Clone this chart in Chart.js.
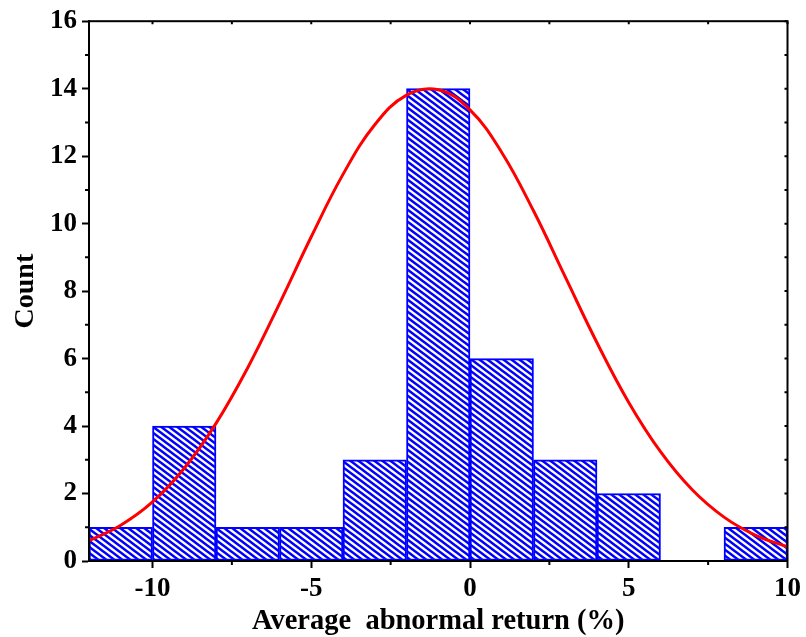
<!DOCTYPE html>
<html>
<head>
<meta charset="utf-8">
<script src="https://cdn.jsdelivr.net/npm/chart.js@4/dist/chart.umd.min.js"></script>
<style>
html,body{margin:0;padding:0;background:#fff;}
#wrap{width:806px;height:637px;}
</style>
</head>
<body>
<div id="wrap"><canvas id="c" width="806" height="637"></canvas></div>
<script>
// Histogram bins (centers) and counts
const binCenters = [-11, -9, -7, -5, -3, -1, 1, 3, 5, 7, 9];
const binCounts  = [1, 4, 1, 1, 3, 14, 6, 3, 2, 0, 1];
// Fitted normal curve
const curveX = [-12, -11, -10, -9, -8, -7, -6, -5, -4, -3, -2, -1, 0, 1, 2, 3, 4, 5, 6, 7, 8, 9, 10];
const curveY = [0.60, 1.06, 1.75, 2.75, 4.08, 5.73, 7.63, 9.61, 11.46, 12.93, 13.81, 13.97, 13.37, 12.11, 10.38, 8.42, 6.47, 4.70, 3.24, 2.11, 1.30, 0.76, 0.42];
// Axis ticks
const xTicks = [-10, -5, 0, 5, 10];
const xMinorTicks = [-7.5, -2.5, 2.5, 7.5];
const yTicks = [0, 2, 4, 6, 8, 10, 12, 14, 16];
const yMinorTicks = [1, 3, 5, 7, 9, 11, 13, 15];

function hatchPattern() {
  const w = 8, h = 6;
  const c = document.createElement('canvas');
  c.width = w; c.height = h;
  const g = c.getContext('2d');
  g.fillStyle = '#ffffff';
  g.fillRect(0, 0, w, h);
  g.strokeStyle = '#0000ff';
  g.lineWidth = 2.5;
  g.beginPath();
  for (const o of [-w, 0, w]) {
    g.moveTo(o - w, -h);
    g.lineTo(o + 2 * w, 2 * h);
  }
  g.stroke();
  return document.getElementById('c').getContext('2d').createPattern(c, 'repeat');
}

const framePlugin = {
  id: 'frame',
  afterDatasetsDraw(chart) {
    const ctx = chart.ctx;
    const a = chart.chartArea;
    const xs = chart.scales.x, ys = chart.scales.y;
    ctx.save();
    ctx.strokeStyle = '#000';
    ctx.lineWidth = 2;
    ctx.strokeRect(a.left, a.top, a.right - a.left, a.bottom - a.top);
    ctx.beginPath();
    for (const v of yMinorTicks) {
      const y = ys.getPixelForValue(v);
      ctx.moveTo(a.left - 4, y); ctx.lineTo(a.left, y);
    }
    for (const v of xMinorTicks) {
      const x = xs.getPixelForValue(v);
      ctx.moveTo(x, a.bottom); ctx.lineTo(x, a.bottom + 4);
    }
    for (const v of yTicks.concat(yMinorTicks)) {
      const y = ys.getPixelForValue(v);
      ctx.moveTo(a.right, y); ctx.lineTo(a.right - 3, y);
    }
    for (const v of xTicks.concat(xMinorTicks)) {
      const x = xs.getPixelForValue(v);
      ctx.moveTo(x, a.top); ctx.lineTo(x, a.top + 3);
    }
    ctx.stroke();
    ctx.restore();
  }
};

const font = {family: '"Liberation Serif", "Times New Roman", serif', weight: 'bold'};

const barData = [];
binCenters.forEach((x, i) => { if (binCounts[i] > 0) barData.push({x: x, y: binCounts[i]}); });
const lineData = curveX.map((x, i) => ({x: x, y: curveY[i]}));

new Chart(document.getElementById('c'), {
  type: 'bar',
  data: {
    datasets: [
      {
        type: 'line',
        data: lineData,
        borderColor: '#ff0000',
        borderWidth: 3,
        pointRadius: 0,
        tension: 0.4,
        fill: false,
        order: 0
      },
      {
        type: 'bar',
        data: barData,
        backgroundColor: hatchPattern(),
        borderColor: '#0000ff',
        borderWidth: 2,
        borderSkipped: false,
        barPercentage: 1,
        categoryPercentage: 1,
        order: 1
      }
    ]
  },
  options: {
    responsive: false,
    animation: false,
    layout: {padding: {top: 20, right: 17, left: 0, bottom: 0}},
    plugins: {legend: {display: false}, tooltip: {enabled: false}},
    scales: {
      x: {
        type: 'linear',
        offset: false,
        min: -12, max: 10,
        afterBuildTicks: s => { s.ticks = xTicks.map(v => ({value: v})); },
        afterFit: s => { s.height = 76; },
        grid: {offset: false, drawOnChartArea: false, drawTicks: true, tickLength: 7, tickWidth: 2, tickColor: '#000'},
        border: {display: true, width: 2, color: '#000'},
        ticks: {color: '#000', font: Object.assign({size: 27}, font), padding: 5, maxRotation: 0},
        title: {display: true, text: 'Average  abnormal return (%)', color: '#000', font: Object.assign({size: 28.5}, font), padding: {top: 0, bottom: -2}}
      },
      y: {
        type: 'linear',
        min: 0, max: 16,
        afterBuildTicks: s => { s.ticks = yTicks.map(v => ({value: v})); },
        afterFit: s => { s.width = 89; },
        grid: {drawOnChartArea: false, drawTicks: true, tickLength: 7, tickWidth: 2, tickColor: '#000'},
        border: {display: true, width: 2, color: '#000'},
        ticks: {color: '#000', font: Object.assign({size: 27}, font), padding: 5},
        title: {display: true, text: 'Count', color: '#000', font: Object.assign({size: 28}, font), padding: {top: 9, bottom: 0}}
      }
    }
  },
  plugins: [framePlugin, {
    id: 'bg',
    beforeDraw(chart) {
      const ctx = chart.ctx;
      ctx.save(); ctx.fillStyle = '#fff'; ctx.fillRect(0, 0, chart.width, chart.height); ctx.restore();
    }
  }]
});
</script>
</body>
</html>
